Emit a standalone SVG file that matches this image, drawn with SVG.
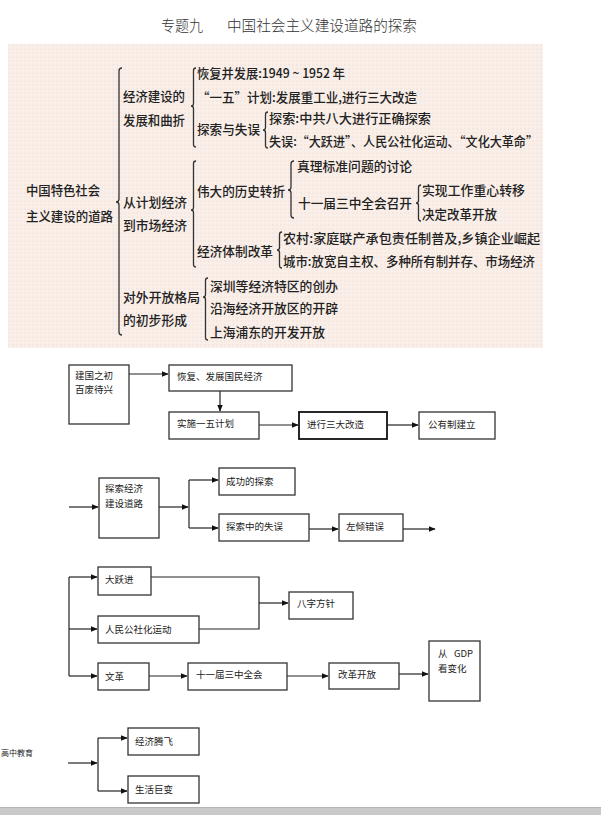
<svg xmlns="http://www.w3.org/2000/svg" width="601" height="815" viewBox="0 0 601 815">
<defs>
<pattern id="dots" width="4" height="4" patternUnits="userSpaceOnUse">
<rect width="4" height="4" fill="#f9eee8"/>
<circle cx="1" cy="1" r="0.7" fill="#f0dfd6"/>
</pattern>
<marker id="ah" viewBox="0 0 10 10" refX="9" refY="5" markerWidth="7" markerHeight="7" markerUnits="userSpaceOnUse" orient="auto">
<path d="M0,1 L10,5 L0,9 z" fill="#111"/>
</marker>
<style>
.t{font-family:"Noto Sans CJK SC","Noto Sans CJK TC",sans-serif;font-size:13px;fill:#222;font-weight:500;}
.title{font-family:"Noto Sans CJK SC",serif;font-size:15px;fill:#333;font-weight:300;}
.br{fill:none;stroke:#333;stroke-width:1.3;}
.box{fill:#fff;stroke:#333;stroke-width:1.3;}
.bt{font-family:"Noto Sans CJK SC","Noto Sans CJK TC",sans-serif;font-size:9.5px;fill:#222;}
.ln{fill:none;stroke:#222;stroke-width:1.2;}
.ar{fill:none;stroke:#222;stroke-width:1.2;marker-end:url(#ah);}
</style>
</defs>
<rect width="601" height="815" fill="#fff"/>
<text class="title" x="161" y="31" textLength="42" lengthAdjust="spacingAndGlyphs">专题九</text>
<text class="title" x="227" y="31" textLength="190" lengthAdjust="spacingAndGlyphs">中国社会主义建设道路的探索</text>
<rect x="8" y="44" width="535" height="304" fill="url(#dots)"/>

<g id="tree">
<g id="root"><text class="t" x="26" y="195" textLength="74" lengthAdjust="spacingAndGlyphs">中国特色社会</text><text class="t" x="26" y="221" textLength="87" lengthAdjust="spacingAndGlyphs">主义建设的道路</text></g>
<path class="br" d="M122,68 Q119,68 119,71 L119,199 Q119,202 116,202 Q119,202 119,205 L119,332 Q119,335 122,335"/>
<g id="n1"><text class="t" x="123" y="101" textLength="62" lengthAdjust="spacingAndGlyphs">经济建设的</text><text class="t" x="123" y="125" textLength="62" lengthAdjust="spacingAndGlyphs">发展和曲折</text></g>
<path class="br" d="M196,68 Q193.5,68 193.5,70.5 L193.5,103.5 Q193.5,106 191,106 Q193.5,106 193.5,108.5 L193.5,144.5 Q193.5,147 196,147"/>
<g id="n1a"><text class="t" x="197" y="78" textLength="148" lengthAdjust="spacingAndGlyphs">恢复并发展:1949 ~ 1952 年</text></g>
<g id="n1b"><text class="t" x="197" y="102" textLength="220" lengthAdjust="spacingAndGlyphs">“一五”计划:发展重工业,进行三大改造</text></g>
<g id="n1c"><text class="t" x="197" y="134" textLength="63" lengthAdjust="spacingAndGlyphs">探索与失误</text></g>
<path class="br" d="M268,112 Q265.5,112 265.5,114.5 L265.5,127.5 Q265.5,130 263,130 Q265.5,130 265.5,132.5 L265.5,145.5 Q265.5,148 268,148"/>
<g id="n1c1"><text class="t" x="269" y="123" textLength="162" lengthAdjust="spacingAndGlyphs">探索:中共八大进行正确探索</text></g>
<g id="n1c2"><text class="t" x="269" y="146" textLength="269" lengthAdjust="spacingAndGlyphs">失误:“大跃进”、人民公社化运动、“文化大革命”</text></g>

<g id="n2"><text class="t" x="123" y="207" textLength="64" lengthAdjust="spacingAndGlyphs">从计划经济</text><text class="t" x="123" y="230" textLength="64" lengthAdjust="spacingAndGlyphs">到市场经济</text></g>
<path class="br" d="M196,161 Q193.5,161 193.5,163.5 L193.5,207.5 Q193.5,210 191,210 Q193.5,210 193.5,212.5 L193.5,264.5 Q193.5,267 196,267"/>
<g id="n2a"><text class="t" x="197" y="196" textLength="88" lengthAdjust="spacingAndGlyphs">伟大的历史转折</text></g>
<path class="br" d="M294,161 Q291,161 291,164 L291,187 Q291,190 288,190 Q291,190 291,193 L291,215 Q291,218 294,218"/>
<g id="n2a1"><text class="t" x="297" y="171" textLength="115" lengthAdjust="spacingAndGlyphs">真理标准问题的讨论</text></g>
<g id="n2a2"><text class="t" x="298" y="208" textLength="114" lengthAdjust="spacingAndGlyphs">十一届三中全会召开</text></g>
<path class="br" d="M421,185 Q418.5,185 418.5,187.5 L418.5,200.5 Q418.5,203 416,203 Q418.5,203 418.5,205.5 L418.5,218.5 Q418.5,221 421,221"/>
<g id="n2a2a"><text class="t" x="422" y="195" textLength="103" lengthAdjust="spacingAndGlyphs">实现工作重心转移</text></g>
<g id="n2a2b"><text class="t" x="422" y="219" textLength="75" lengthAdjust="spacingAndGlyphs">决定改革开放</text></g>
<g id="n2b"><text class="t" x="197" y="256" textLength="76" lengthAdjust="spacingAndGlyphs">经济体制改革</text></g>
<path class="br" d="M282,232 Q279.5,232 279.5,234.5 L279.5,247.5 Q279.5,250 277,250 Q279.5,250 279.5,252.5 L279.5,265.5 Q279.5,268 282,268"/>
<g id="n2b1"><text class="t" x="283" y="243" textLength="257" lengthAdjust="spacingAndGlyphs">农村:家庭联产承包责任制普及,乡镇企业崛起</text></g>
<g id="n2b2"><text class="t" x="283" y="266" textLength="252" lengthAdjust="spacingAndGlyphs">城市:放宽自主权、多种所有制并存、市场经济</text></g>

<g id="n3"><text class="t" x="123" y="302" textLength="77" lengthAdjust="spacingAndGlyphs">对外开放格局</text><text class="t" x="123" y="325" textLength="64" lengthAdjust="spacingAndGlyphs">的初步形成</text></g>
<path class="br" d="M208,278 Q205.5,278 205.5,280.5 L205.5,294.5 Q205.5,297 203,297 Q205.5,297 205.5,299.5 L205.5,337.5 Q205.5,340 208,340"/>
<g id="n3a"><text class="t" x="210" y="291" textLength="128" lengthAdjust="spacingAndGlyphs">深圳等经济特区的创办</text></g>
<g id="n3b"><text class="t" x="210" y="313" textLength="128" lengthAdjust="spacingAndGlyphs">沿海经济开放区的开辟</text></g>
<g id="n3c"><text class="t" x="210" y="337" textLength="115" lengthAdjust="spacingAndGlyphs">上海浦东的开发开放</text></g>
</g>

<g id="connectors">
<path class="ar" d="M129,374 L168,374"/>
<path class="ar" d="M220,391 L220,411"/>
<path class="ar" d="M259,425 L298,425"/>
<path class="ar" d="M387,425 L418,425"/>
<path class="ar" d="M69,507 L98,507"/>
<path class="ar" d="M159,507 L188,507"/>
<path class="ln" d="M189,480 L189,528"/>
<path class="ar" d="M189,480 L218,480"/>
<path class="ar" d="M189,528 L218,528"/>
<path class="ar" d="M309,529 L338,529"/>
<path class="ar" d="M403,529 L435,529"/>
<path class="ln" d="M69,577 L69,676"/>
<path class="ar" d="M69,577 L97,577"/>
<path class="ar" d="M69,629 L97,629"/>
<path class="ar" d="M69,676 L97,676"/>
<path class="ln" d="M151,577 L259,577 L259,629 L199,629"/>
<path class="ar" d="M259,603 L288,603"/>
<path class="ar" d="M149,676 L187,676"/>
<path class="ar" d="M287,676 L328,676"/>
<path class="ar" d="M399,674 L428,674"/>
<path class="ar" d="M68,763 L97,763"/>
<path class="ln" d="M98,738 L98,791"/>
<path class="ar" d="M98,738 L127,738"/>
<path class="ar" d="M98,791 L127,791"/>
</g>

<g id="b1"><rect class="box" x="69" y="365" width="60" height="59"/><text class="bt" x="75" y="379">建国之初</text><text class="bt" x="75" y="393">百废待兴</text></g>
<g id="b2"><rect class="box" x="169" y="365" width="123" height="26"/><text class="bt" x="177" y="380">恢复、发展国民经济</text></g>
<g id="b3"><rect class="box" x="169" y="412" width="90" height="27"/><text class="bt" x="177" y="427">实施一五计划</text></g>
<g id="b4"><rect class="box" x="299" y="412" width="88" height="27" style="stroke-width:1.8;stroke:#111"/><text class="bt" x="307" y="428">进行三大改造</text></g>
<g id="b5"><rect class="box" x="419" y="412" width="76" height="27"/><text class="bt" x="428" y="428">公有制建立</text></g>

<g id="b6"><rect class="box" x="99" y="478" width="60" height="60"/><text class="bt" x="105" y="492">探索经济</text><text class="bt" x="105" y="507">建设道路</text></g>
<g id="b7"><rect class="box" x="219" y="468" width="76" height="27"/><text class="bt" x="226" y="485">成功的探索</text></g>
<g id="b8"><rect class="box" x="219" y="514" width="90" height="27"/><text class="bt" x="226" y="530">探索中的失误</text></g>
<g id="b9"><rect class="box" x="339" y="514" width="64" height="27"/><text class="bt" x="346" y="530">左倾错误</text></g>

<g id="b10"><rect class="box" x="98" y="567" width="53" height="28"/><text class="bt" x="105" y="583">大跃进</text></g>
<g id="b11"><rect class="box" x="98" y="616" width="101" height="27"/><text class="bt" x="105" y="633">人民公社化运动</text></g>
<g id="b12"><rect class="box" x="289" y="592" width="64" height="27"/><text class="bt" x="297" y="607">八字方针</text></g>
<g id="b13"><rect class="box" x="98" y="663" width="51" height="27"/><text class="bt" x="105" y="680">文革</text></g>
<g id="b14"><rect class="box" x="188" y="663" width="99" height="27"/><text class="bt" x="196" y="678">十一届三中全会</text></g>
<g id="b15"><rect class="box" x="329" y="663" width="70" height="26"/><text class="bt" x="338" y="678">改革开放</text></g>
<g id="b16"><rect class="box" x="429" y="641" width="51" height="60"/><text class="bt" x="438" y="657" xml:space="preserve">从   GDP</text><text class="bt" x="438" y="672">看变化</text></g>

<g id="b17"><text class="bt" x="1" y="756" style="font-size:8px">高中教育</text></g>
<g id="b18"><rect class="box" x="128" y="728" width="71" height="27"/><text class="bt" x="135" y="745">经济腾飞</text></g>
<g id="b19"><rect class="box" x="128" y="776" width="71" height="27"/><text class="bt" x="135" y="793">生活巨变</text></g>

<rect x="0" y="807" width="601" height="8" fill="#c9c9c9"/>
<rect x="0" y="807" width="601" height="1" fill="#b5b5b5"/>
</svg>
